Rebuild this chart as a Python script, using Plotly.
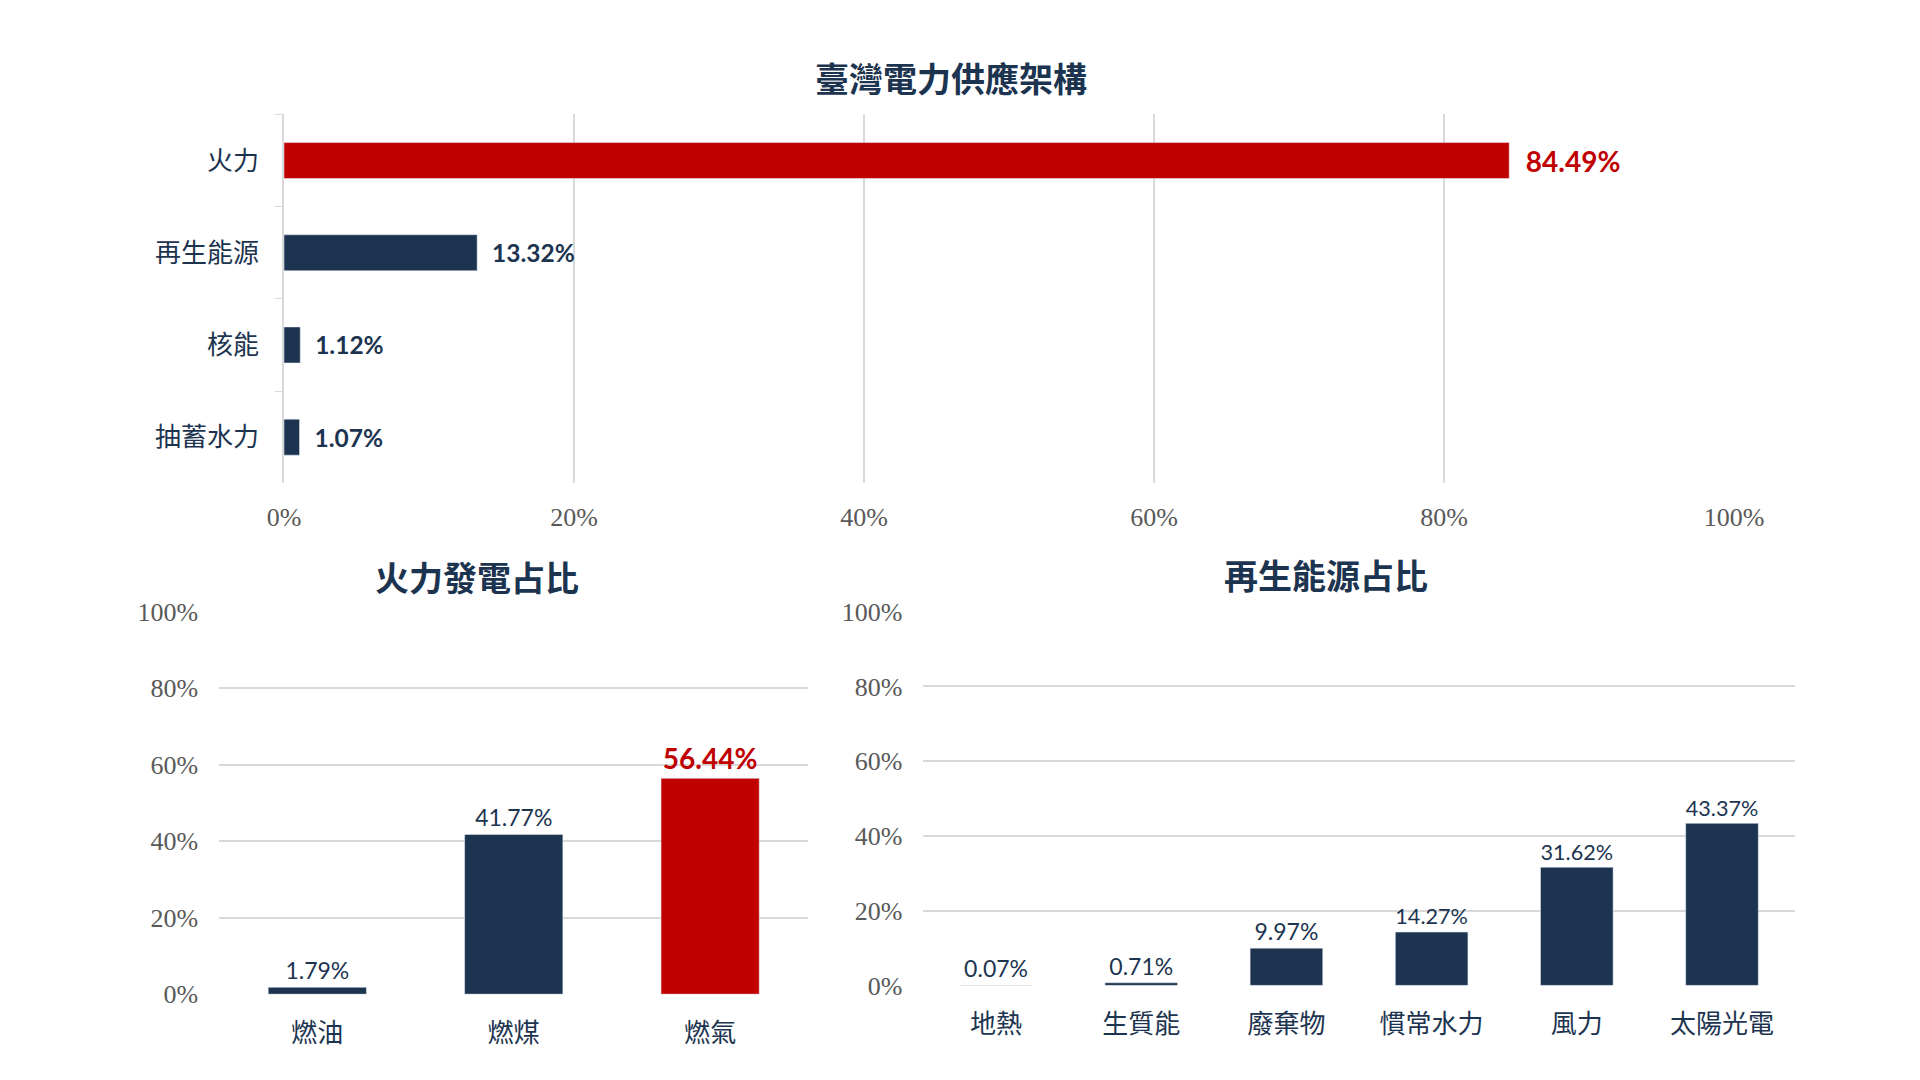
import plotly.graph_objects as go

# data
supply_cats = ["火力", "再生能源", "核能", "抽蓄水力"]
supply_vals = [0.8449, 0.1332, 0.0112, 0.0107]

thermal_cats = ["燃油", "燃煤", "燃氣"]
thermal_vals = [0.0179, 0.4177, 0.5644]

renew_cats = ["地熱", "生質能", "廢棄物", "慣常水力", "風力", "太陽光電"]
renew_vals = [0.0007, 0.0071, 0.0997, 0.1427, 0.3162, 0.4337]

RED = "#c00000"
NAVY = "#1c3450"
GRID = "#d9d9d9"
CJK = "Noto Sans CJK TC"
NUM = "Lato"
TICK = dict(family="Liberation Serif", size=26, color="#595959")

W, H = 1920, 1080


def px_x(a, b):
    return [a / W, b / W]


def px_y(top, bottom):
    return [1 - bottom / H, 1 - top / H]


fig = go.Figure()

# top: supply structure
fig.add_trace(go.Bar(
    x=supply_vals, y=supply_cats, orientation="h",
    marker=dict(color=[RED, NAVY, NAVY, NAVY]), width=0.39,
    text=[f"\u00a0\u00a0{v*100:.2f}%" for v in supply_vals], textposition="outside",
    textfont=dict(family=NUM, size=[28, 24.5, 24.5, 24.5], color=[RED, NAVY, NAVY, NAVY],
                  weight="bold"),
    cliponaxis=False, xaxis="x", yaxis="y", showlegend=False,
))

# bottom left: thermal
fig.add_trace(go.Bar(
    x=thermal_cats, y=thermal_vals,
    marker=dict(color=[NAVY, NAVY, RED]), width=0.5,
    text=[f"{v*100:.2f}%" for v in thermal_vals], textposition="outside",
    textfont=dict(family=NUM, size=[23, 23, 28], color=[NAVY, NAVY, RED],
                  weight=["normal", "normal", "bold"]),
    cliponaxis=False, xaxis="x2", yaxis="y2", showlegend=False,
))

# bottom right: renewables
fig.add_trace(go.Bar(
    x=renew_cats, y=renew_vals,
    marker=dict(color=NAVY), width=0.5,
    text=[f"{v*100:.2f}%" for v in renew_vals], textposition="outside",
    textfont=dict(family=NUM, size=23, color=NAVY),
    cliponaxis=False, xaxis="x3", yaxis="y3", showlegend=False,
))

fig.update_layout(
    width=W, height=H,
    margin=dict(l=0, r=0, t=0, b=0),
    plot_bgcolor="white", paper_bgcolor="white",
    xaxis=dict(domain=px_x(265.5, 1752), range=[0, 1], tickvals=[0, 0.2, 0.4, 0.6, 0.8, 1.0],
               tickformat=".0%", showgrid=True, gridcolor=GRID, gridwidth=1.5,
               zeroline=False, showline=False, tickfont=TICK, ticklabelstandoff=16),
    yaxis=dict(domain=px_y(95, 474), autorange="reversed", showgrid=False,
               showline=True, linecolor=GRID, linewidth=1.5,
               ticks="outside", tickson="boundaries", ticklen=7, tickcolor=GRID,
               tickfont=dict(family=CJK, size=26, color=NAVY), ticklabelstandoff=18),
    xaxis2=dict(domain=px_x(199, 803), anchor="y2", showgrid=False, showline=False,
                tickfont=dict(family=CJK, size=26, color=NAVY), ticklabelstandoff=21),
    yaxis2=dict(domain=px_y(606, 999), anchor="x2", range=[0, 1.0], dtick=0.2,
                tickformat=".0%", showgrid=True, gridcolor=GRID, gridwidth=2,
                zeroline=False, tickfont=TICK, ticklabelstandoff=20),
    xaxis3=dict(domain=px_x(921, 1814), anchor="y3", showgrid=False, showline=False,
                tickfont=dict(family=CJK, size=26, color=NAVY), ticklabelstandoff=21),
    yaxis3=dict(domain=px_y(606, 990), anchor="x3", range=[0, 1.0], dtick=0.2,
                tickformat=".0%", showgrid=True, gridcolor=GRID, gridwidth=2,
                zeroline=False, tickfont=TICK, ticklabelstandoff=20),
    annotations=[
        dict(text="臺灣電力供應架構", x=949 / W, y=1 - 57.5 / H),
        dict(text="火力發電占比", x=463 / W, y=1 - 570 / H),
        dict(text="再生能源占比", x=1334 / W, y=1 - 568 / H),
    ],
)
fig.update_annotations(xref="paper", yref="paper", xanchor="center", yanchor="middle",
                       showarrow=False,
                       font=dict(family=CJK, size=34, color=NAVY, weight="bold"))

fig.write_html("out.html")
